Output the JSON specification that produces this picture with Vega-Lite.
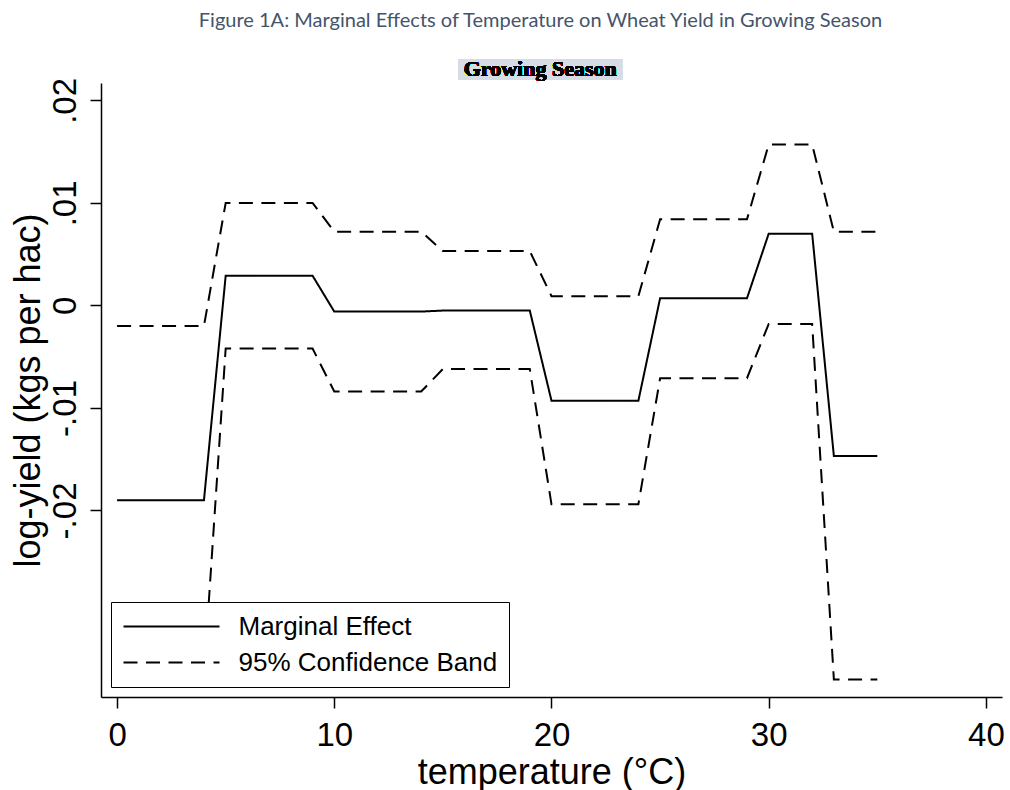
{
  "$schema": "https://vega.github.io/schema/vega-lite/v6.json",
  "width": 901,
  "height": 614,
  "autosize": "none",
  "padding": {"left": 101, "top": 83, "right": 8, "bottom": 93},
  "background": "white",
  "title": {
    "text": "Figure 1A: Marginal Effects of Temperature on Wheat Yield in Growing Season",
    "font": "Lato",
    "fontSize": 20,
    "fontWeight": "normal",
    "color": "#44546A",
    "anchor": "middle",
    "frame": "group",
    "dx": -11,
    "baseline": "alphabetic",
    "offset": 11
  },
  "config": {
    "view": {"stroke": null},
    "axis": {
      "grid": false,
      "domainColor": "black",
      "domainWidth": 1.5,
      "tickColor": "black",
      "tickWidth": 1.5,
      "tickSize": 11,
      "labelFont": "Liberation Sans",
      "labelFontSize": 33,
      "labelColor": "black",
      "titleFont": "Liberation Sans",
      "titleFontSize": 36,
      "titleFontWeight": "normal",
      "titleColor": "black"
    }
  },
  "data": {
    "values": [
      {"temp": 0, "effect": -0.0190, "lower": -0.0360, "upper": -0.0020},
      {"temp": 1, "effect": -0.0190, "lower": -0.0360, "upper": -0.0020},
      {"temp": 2, "effect": -0.0190, "lower": -0.0360, "upper": -0.0020},
      {"temp": 3, "effect": -0.0190, "lower": -0.0360, "upper": -0.0020},
      {"temp": 4, "effect": -0.0190, "lower": -0.0360, "upper": -0.0020},
      {"temp": 5, "effect": 0.0029, "lower": -0.0042, "upper": 0.0100},
      {"temp": 6, "effect": 0.0029, "lower": -0.0042, "upper": 0.0100},
      {"temp": 7, "effect": 0.0029, "lower": -0.0042, "upper": 0.0100},
      {"temp": 8, "effect": 0.0029, "lower": -0.0042, "upper": 0.0100},
      {"temp": 9, "effect": 0.0029, "lower": -0.0042, "upper": 0.0100},
      {"temp": 10, "effect": -0.0006, "lower": -0.0084, "upper": 0.0072},
      {"temp": 11, "effect": -0.0006, "lower": -0.0084, "upper": 0.0072},
      {"temp": 12, "effect": -0.0006, "lower": -0.0084, "upper": 0.0072},
      {"temp": 13, "effect": -0.0006, "lower": -0.0084, "upper": 0.0072},
      {"temp": 14, "effect": -0.0006, "lower": -0.0084, "upper": 0.0072},
      {"temp": 15, "effect": -0.0005, "lower": -0.0062, "upper": 0.0053},
      {"temp": 16, "effect": -0.0005, "lower": -0.0062, "upper": 0.0053},
      {"temp": 17, "effect": -0.0005, "lower": -0.0062, "upper": 0.0053},
      {"temp": 18, "effect": -0.0005, "lower": -0.0062, "upper": 0.0053},
      {"temp": 19, "effect": -0.0005, "lower": -0.0062, "upper": 0.0053},
      {"temp": 20, "effect": -0.0093, "lower": -0.0194, "upper": 0.0009},
      {"temp": 21, "effect": -0.0093, "lower": -0.0194, "upper": 0.0009},
      {"temp": 22, "effect": -0.0093, "lower": -0.0194, "upper": 0.0009},
      {"temp": 23, "effect": -0.0093, "lower": -0.0194, "upper": 0.0009},
      {"temp": 24, "effect": -0.0093, "lower": -0.0194, "upper": 0.0009},
      {"temp": 25, "effect": 0.0007, "lower": -0.0071, "upper": 0.0084},
      {"temp": 26, "effect": 0.0007, "lower": -0.0071, "upper": 0.0084},
      {"temp": 27, "effect": 0.0007, "lower": -0.0071, "upper": 0.0084},
      {"temp": 28, "effect": 0.0007, "lower": -0.0071, "upper": 0.0084},
      {"temp": 29, "effect": 0.0007, "lower": -0.0071, "upper": 0.0084},
      {"temp": 30, "effect": 0.0070, "lower": -0.0018, "upper": 0.0157},
      {"temp": 31, "effect": 0.0070, "lower": -0.0018, "upper": 0.0157},
      {"temp": 32, "effect": 0.0070, "lower": -0.0018, "upper": 0.0157},
      {"temp": 33, "effect": -0.0147, "lower": -0.0365, "upper": 0.0072},
      {"temp": 34, "effect": -0.0147, "lower": -0.0365, "upper": 0.0072},
      {"temp": 35, "effect": -0.0147, "lower": -0.0365, "upper": 0.0072}
    ]
  },
  "layer": [
    {
      "transform": [
        {"fold": ["effect", "lower", "upper"], "as": ["series", "value"]},
        {"calculate": "datum.series == 'effect' ? 'Marginal Effect' : '95% Confidence Band'", "as": "band"}
      ],
      "mark": {"type": "line", "color": "black", "strokeWidth": 2, "clip": false},
      "encoding": {
        "x": {
          "field": "temp",
          "type": "quantitative",
          "scale": {"domain": [-0.74, 40.74], "nice": false, "zero": false},
          "axis": {
            "values": [0, 10, 20, 30, 40],
            "labelPadding": 11,
            "title": "temperature (°C)",
            "titlePadding": 3
          }
        },
        "y": {
          "field": "value",
          "type": "quantitative",
          "scale": {"domain": [-0.0382, 0.0217], "nice": false, "zero": false},
          "axis": {
            "values": [-0.02, -0.01, 0, 0.01, 0.02],
            "labelExpr": "datum.value > 0.015 ? '.02' : datum.value > 0.005 ? '.01' : datum.value > -0.005 ? '0' : datum.value > -0.015 ? '-.01' : '-.02'",
            "labelAngle": -90,
            "labelAlign": "center",
            "labelBaseline": "bottom",
            "labelPadding": 8,
            "title": "log-yield (kgs per hac)",
            "titlePadding": 2
          }
        },
        "detail": {"field": "series", "type": "nominal"},
        "strokeDash": {
          "field": "band",
          "type": "nominal",
          "scale": {"domain": ["Marginal Effect", "95% Confidence Band"], "range": [[1, 0], [14, 8.5]]},
          "legend": {
            "title": null,
            "orient": "bottom-left",
            "offset": 10,
            "fillColor": "white",
            "strokeColor": "black",
            "padding": 11.5,
            "labelFont": "Liberation Sans",
            "labelFontSize": 26,
            "labelColor": "black",
            "labelLimit": 500,
            "labelOffset": 90,
            "rowPadding": 10,
            "symbolType": "M-1,0H7",
            "symbolSize": 576,
            "symbolStrokeWidth": 2,
            "symbolStrokeColor": "black"
          }
        }
      }
    },
    {
      "mark": {"type": "rect", "color": "#D6DCE4", "clip": false},
      "encoding": {
        "x": {"datum": 15.71, "type": "quantitative"},
        "x2": {"datum": 23.25},
        "y": {"datum": 0.02404, "type": "quantitative"},
        "y2": {"datum": 0.02199}
      }
    },
    {
      "mark": {"type": "text", "font": "Liberation Serif", "fontWeight": "bold", "fontSize": 22, "color": "black", "align": "center", "baseline": "middle", "clip": false},
      "encoding": {
        "x": {"datum": 19.48, "type": "quantitative"},
        "y": {"datum": 0.02307, "type": "quantitative"},
        "text": {"value": "Growing Season"}
      }
    }
  ]
}
